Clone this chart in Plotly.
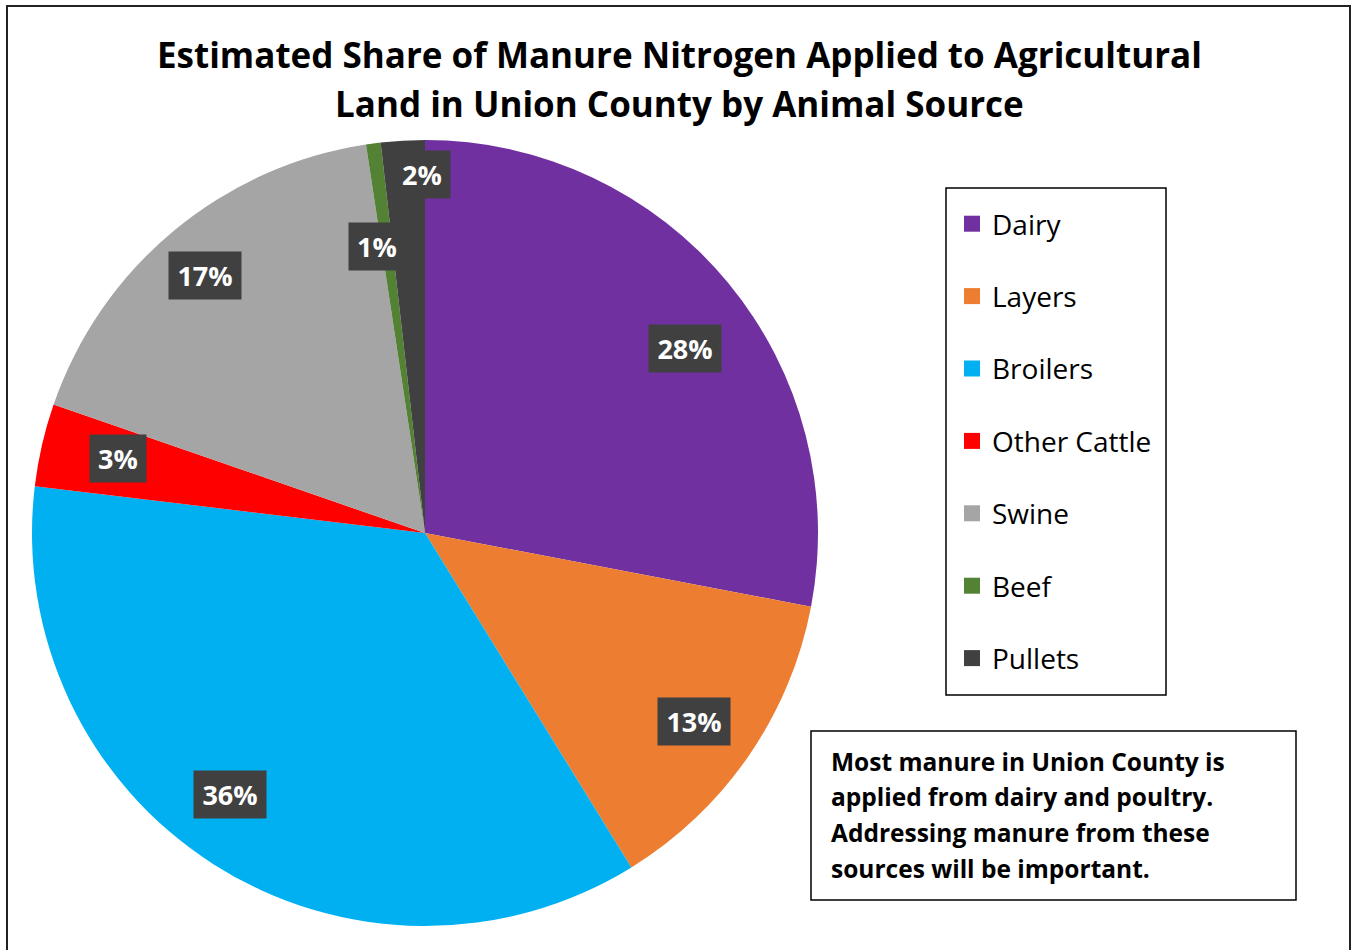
import math
import plotly.graph_objects as go

# ---- data ----
categories = ["Dairy", "Layers", "Broilers", "Other Cattle", "Swine", "Beef", "Pullets"]
shares = [28.0, 13.2, 35.7, 3.4, 17.3, 0.6, 1.8]
colors = ["#7030A0", "#ED7D31", "#00B0F0", "#FF0000", "#A5A5A5", "#548235", "#404040"]

title_lines = ["Estimated Share of Manure Nitrogen Applied to Agricultural",
               "Land in Union County by Animal Source"]
note_lines = ["Most manure in Union County is", "applied from dairy and poultry.",
              "Addressing manure from these", "sources will be important."]

# ---- layout / style parameters ----
W, H = 1357, 950
FONT = "Open Sans"
cx, cy, R = 425, 533, 393
label_rfac = [0.812, 0.837, 0.831, 0.804, 0.863, 0.740, 0.912]
label_dang = [4.2, 0.5, 4.1, 0.6, -0.7, -1.9, 2.8]

fig = go.Figure()
fig.add_trace(go.Pie(
    labels=categories, values=shares, sort=False, direction="clockwise", rotation=0,
    marker=dict(colors=colors, line=dict(width=0)), textinfo="none", showlegend=False,
    hoverinfo="label+percent",
    domain=dict(x=[(cx - R) / W, (cx + R) / W], y=[1 - (cy + R) / H, 1 - (cy - R) / H]),
))

# legend via per-category marker entries
for c, col in zip(categories, colors):
    fig.add_trace(go.Scatter(x=[None], y=[None], mode="markers", name=c, legendgroup=c,
                             marker=dict(symbol="square", size=18, color=col)))

annotations = []
total = sum(shares)
cum = 0.0
for i, v in enumerate(shares):
    mid = (cum + v / 2) / total * 360 + label_dang[i]
    cum += v
    r = R * label_rfac[i]
    px = cx + r * math.sin(math.radians(mid))
    py = cy - r * math.cos(math.radians(mid))
    pct = round(v / total * 100)
    annotations.append(dict(
        x=px / W, y=1 - py / H, xref="paper", yref="paper", showarrow=False,
        text="<b>%d%%</b>" % pct,
        font=dict(family=FONT, size=27, color="white"),
        bgcolor="#404040", borderpad=6, width=60 if pct >= 10 else 44, height=35,
        xanchor="center", yanchor="middle"))

for txt, yy in zip(title_lines, [55, 104]):
    annotations.append(dict(x=679 / W, y=1 - yy / H, xref="paper", yref="paper", showarrow=False,
                            text="<b>%s</b>" % txt, font=dict(family=FONT, size=35, color="black"),
                            xanchor="center", yanchor="middle"))

for k, txt in enumerate(note_lines):
    annotations.append(dict(x=829 / W, y=1 - (761 + 35.7 * k) / H, xref="paper", yref="paper",
                            showarrow=False, text="<b>%s</b>" % txt,
                            font=dict(family=FONT, size=24.5, color="black"),
                            xanchor="left", yanchor="middle", align="left"))

fig.update_layout(
    width=W, height=H, autosize=False,
    margin=dict(l=0, r=0, t=0, b=0),
    paper_bgcolor="white", plot_bgcolor="white",
    xaxis=dict(visible=False), yaxis=dict(visible=False),
    showlegend=True,
    legend=dict(x=952 / W, y=1 - 199 / H, xanchor="left", yanchor="top",
                borderwidth=0, bgcolor="rgba(0,0,0,0)",
                font=dict(family=FONT, size=28, color="black"),
                traceorder="grouped", tracegroupgap=33, itemclick=False),
    annotations=annotations,
    shapes=[
        dict(type="rect", xref="paper", yref="paper", x0=7 / W, x1=1350 / W,
             y0=-0.05, y1=1 - 6 / H, line=dict(color="#222222", width=2)),
        dict(type="rect", xref="paper", yref="paper", x0=946 / W, x1=1166 / W,
             y0=1 - 695 / H, y1=1 - 188 / H, line=dict(color="black", width=1.5)),
        dict(type="rect", xref="paper", yref="paper", x0=811 / W, x1=1296 / W,
             y0=1 - 900 / H, y1=1 - 731 / H, line=dict(color="black", width=1.5)),
    ],
)

fig.write_html("out.html", config={"displayModeBar": False},
               post_script="document.body.style.margin='0px';")
